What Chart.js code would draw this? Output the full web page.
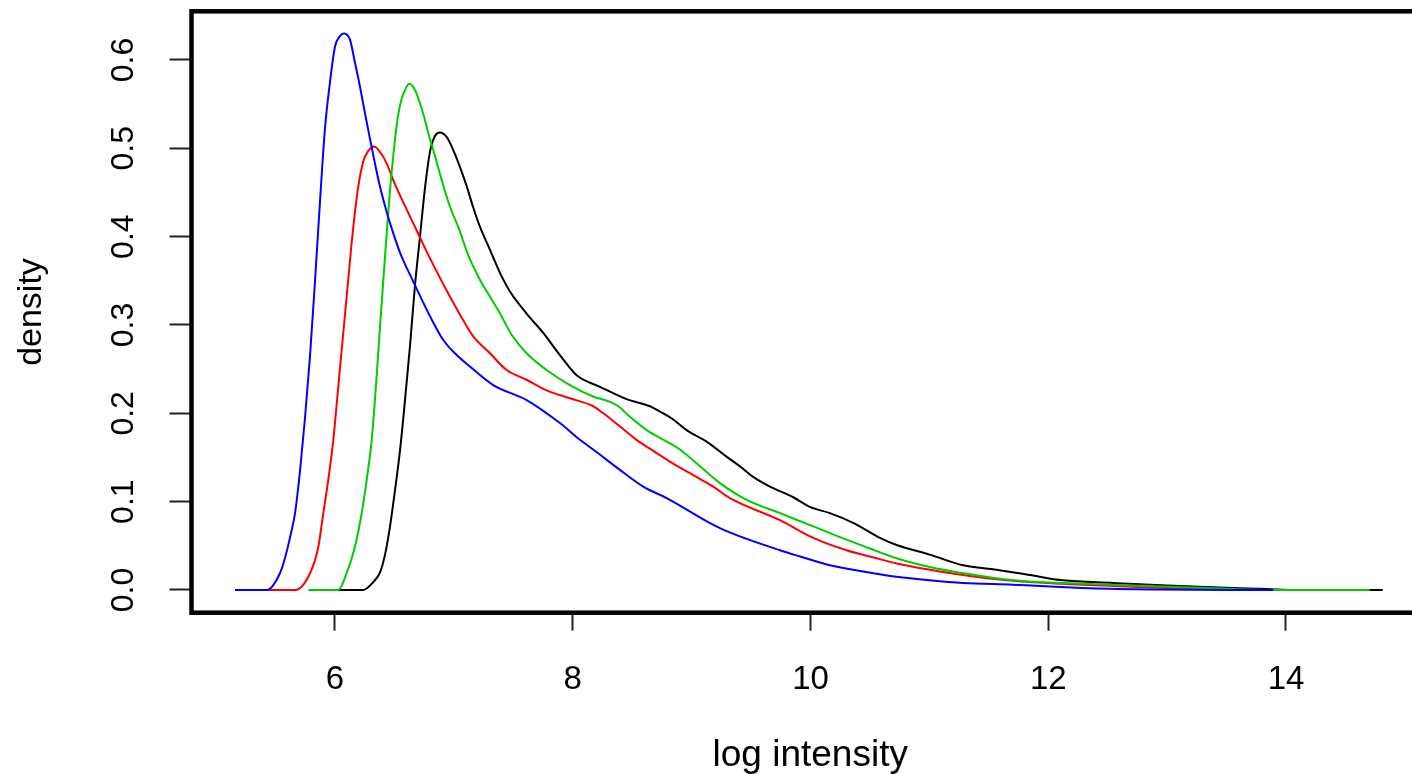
<!DOCTYPE html>
<html>
<head>
<meta charset="utf-8">
<title>density of log intensity</title>
<script src="https://cdn.jsdelivr.net/npm/chart.js@4.4.1/dist/chart.umd.min.js"></script>
<style>
  html, body { margin: 0; padding: 0; background: #fff; overflow: hidden; }
  /* plot box runs past the right edge of the window, like the original */
  #wrap { position: absolute; left: 0; top: 0; width: 1440px; height: 774px; }
</style>
</head>
<body>
<div id="wrap"><canvas id="dens"></canvas></div>
<script>
// ─── Data ─────────────────────────────────────────────────────────────
const X_TICKS = [6, 8, 10, 12, 14];
const Y_TICKS = [0, 0.1, 0.2, 0.3, 0.4, 0.5, 0.6];

const blueX = [5.159, 5.426, 5.537, 5.579, 5.621, 5.664, 5.706, 5.748, 5.790, 5.832, 5.874, 5.916, 5.958, 6.000, 6.042, 6.076, 6.126, 6.168, 6.210, 6.252, 6.294, 6.336, 6.378, 6.435, 6.490, 6.547, 6.659, 6.799, 6.911, 7.024, 7.135, 7.331, 7.612, 7.892, 8.061, 8.172, 8.397, 8.593, 8.790, 9.238, 9.743, 9.911, 10.163, 10.443, 10.724, 11.004, 11.282, 11.702, 12.350, 12.880, 13.890];
const blueY = [0, 0, 0.019, 0.036, 0.059, 0.087, 0.135, 0.195, 0.265, 0.350, 0.440, 0.523, 0.575, 0.615, 0.627, 0.630, 0.623, 0.597, 0.570, 0.540, 0.511, 0.483, 0.457, 0.428, 0.404, 0.382, 0.349, 0.310, 0.283, 0.266, 0.253, 0.232, 0.215, 0.189, 0.170, 0.159, 0.136, 0.117, 0.104, 0.070, 0.045, 0.038, 0.028, 0.021, 0.015, 0.011, 0.008, 0.006, 0.002, 0.0006, 0];

const redX = [5.386, 5.664, 5.790, 5.860, 5.902, 5.944, 5.986, 6.014, 6.042, 6.076, 6.112, 6.140, 6.168, 6.196, 6.238, 6.280, 6.328, 6.378, 6.435, 6.490, 6.574, 6.659, 6.743, 6.827, 6.939, 7.051, 7.163, 7.304, 7.444, 7.612, 7.780, 7.976, 8.172, 8.257, 8.397, 8.537, 8.706, 8.845, 9.014, 9.182, 9.322, 9.743, 10.023, 10.303, 10.500, 10.724, 11.004, 11.282, 11.649, 12.123, 12.661, 13.048, 13.610];
const redY = [0, 0, 0.019, 0.049, 0.087, 0.125, 0.170, 0.210, 0.251, 0.300, 0.352, 0.393, 0.428, 0.457, 0.485, 0.497, 0.502, 0.496, 0.483, 0.464, 0.439, 0.415, 0.391, 0.368, 0.339, 0.312, 0.287, 0.268, 0.249, 0.238, 0.226, 0.217, 0.208, 0.200, 0.185, 0.170, 0.155, 0.143, 0.130, 0.117, 0.104, 0.079, 0.059, 0.045, 0.038, 0.030, 0.023, 0.017, 0.011, 0.007, 0.004, 0.002, 0];

const greenX = [5.776, 6.028, 6.098, 6.168, 6.225, 6.267, 6.309, 6.336, 6.364, 6.393, 6.421, 6.463, 6.505, 6.532, 6.561, 6.589, 6.625, 6.673, 6.715, 6.749, 6.785, 6.827, 6.898, 6.967, 7.037, 7.121, 7.220, 7.304, 7.388, 7.486, 7.612, 7.780, 7.976, 8.172, 8.313, 8.383, 8.481, 8.622, 8.818, 8.902, 9.070, 9.238, 9.463, 9.743, 10.023, 10.303, 10.500, 10.724, 11.004, 11.284, 11.702, 12.123, 12.711, 13.384, 13.889, 14.705];
const greenY = [0, 0, 0.019, 0.049, 0.087, 0.125, 0.170, 0.215, 0.269, 0.325, 0.378, 0.453, 0.510, 0.538, 0.556, 0.566, 0.573, 0.566, 0.551, 0.536, 0.517, 0.498, 0.464, 0.434, 0.411, 0.379, 0.351, 0.332, 0.313, 0.289, 0.268, 0.249, 0.232, 0.219, 0.213, 0.208, 0.196, 0.181, 0.166, 0.159, 0.140, 0.121, 0.102, 0.087, 0.072, 0.057, 0.047, 0.036, 0.026, 0.019, 0.011, 0.008, 0.005, 0.002, 0, 0];

const blackX = [6.000, 6.236, 6.322, 6.379, 6.421, 6.463, 6.505, 6.547, 6.589, 6.631, 6.673, 6.715, 6.757, 6.799, 6.841, 6.883, 6.939, 6.995, 7.051, 7.108, 7.163, 7.220, 7.304, 7.388, 7.472, 7.612, 7.752, 7.892, 8.033, 8.229, 8.453, 8.649, 8.733, 8.845, 8.958, 9.126, 9.294, 9.406, 9.518, 9.659, 9.855, 9.995, 10.163, 10.359, 10.584, 10.724, 11.004, 11.284, 11.565, 11.845, 12.123, 12.543, 12.997, 13.611, 13.840, 14.116, 14.814];
const blackY = [0, 0, 0.009, 0.020, 0.040, 0.072, 0.113, 0.158, 0.215, 0.276, 0.345, 0.400, 0.455, 0.496, 0.514, 0.518, 0.513, 0.498, 0.479, 0.457, 0.433, 0.411, 0.385, 0.359, 0.338, 0.313, 0.291, 0.266, 0.243, 0.230, 0.216, 0.208, 0.202, 0.193, 0.181, 0.168, 0.151, 0.140, 0.128, 0.117, 0.105, 0.094, 0.087, 0.076, 0.059, 0.051, 0.040, 0.028, 0.023, 0.017, 0.011, 0.008, 0.005, 0.002, 0.001, 0, 0];

// ─── Helpers ──────────────────────────────────────────────────────────
const toPoints = (xs, ys) => xs.map((x, i) => ({ x, y: ys[i] }));

function series(label, xs, ys, color) {
  return {
    label,
    data: toPoints(xs, ys),
    showLine: true,
    borderColor: color,
    borderWidth: 2,
    pointRadius: 0,
    cubicInterpolationMode: "monotone",
    fill: false,
  };
}

// heavy R-style box round the plot region
const boxPlugin = {
  id: "box",
  afterDraw(chart) {
    const { ctx, chartArea: a } = chart;
    ctx.save();
    ctx.strokeStyle = "#000";
    ctx.lineWidth = 4.5;
    ctx.strokeRect(a.left, a.top, a.right - a.left, a.bottom - a.top);
    ctx.restore();
  },
};

// keep the plot region where the original has it: no extra label padding
function noEdgePadding(s) {
  s.paddingTop = 0; s.paddingBottom = 0; s.paddingLeft = 0; s.paddingRight = 0;
}

const FAMILY = "'Liberation Sans', Arial, sans-serif";
const TICK_FONT = { family: FAMILY, size: 32, lineHeight: 1 };

// ─── Chart ────────────────────────────────────────────────────────────
new Chart(document.getElementById("dens"), {
  type: "scatter",
  data: {
    datasets: [
      series("blue", blueX, blueY, "#0000ff"),
      series("green", greenX, greenY, "#00cd00"),
      series("red", redX, redY, "#ff0000"),
      series("black", blackX, blackY, "#000000"),
    ],
  },
  options: {
    responsive: true,
    maintainAspectRatio: false,
    animation: false,
    layout: { padding: { left: 0, top: 11.3, right: 11, bottom: 0 } },
    plugins: { legend: { display: false }, tooltip: { enabled: false } },
    scales: {
      x: {
        type: "linear",
        min: 4.793,
        max: 15.203,
        afterBuildTicks: (s) => { s.ticks = X_TICKS.map((v) => ({ value: v })); },
        afterFit: (s) => { s.height = 161.3; noEdgePadding(s); },
        border: { display: false },
        grid: { drawOnChartArea: false, drawTicks: true, tickLength: 18, color: "#222", tickWidth: 2 },
        ticks: { color: "#000", font: { ...TICK_FONT, size: 33 }, padding: 33, maxRotation: 0, autoSkip: false, callback: (v) => String(v) },
        title: { display: true, text: "log intensity", color: "#000", font: { family: FAMILY, size: 37, lineHeight: 1 }, padding: { top: 0, bottom: 0 } },
      },
      y: {
        type: "linear",
        min: -0.0257,
        max: 0.6551,
        afterBuildTicks: (s) => { s.ticks = Y_TICKS.map((v) => ({ value: v })); },
        afterFit: (s) => { s.width = 191.5; noEdgePadding(s); },
        border: { display: false },
        grid: { drawOnChartArea: false, drawTicks: true, tickLength: 22, color: "#222", tickWidth: 2 },
        ticks: {
          color: "#000", font: TICK_FONT, padding: 23, minRotation: 90, maxRotation: 90,
          crossAlign: "center", autoSkip: false, callback: (v) => v.toFixed(1),
        },
        title: { display: true, text: "density", color: "#000", font: { family: FAMILY, size: 34, lineHeight: 1 }, padding: { top: 15, bottom: 0 } },
      },
    },
  },
  plugins: [boxPlugin],
});
</script>
</body>
</html>
